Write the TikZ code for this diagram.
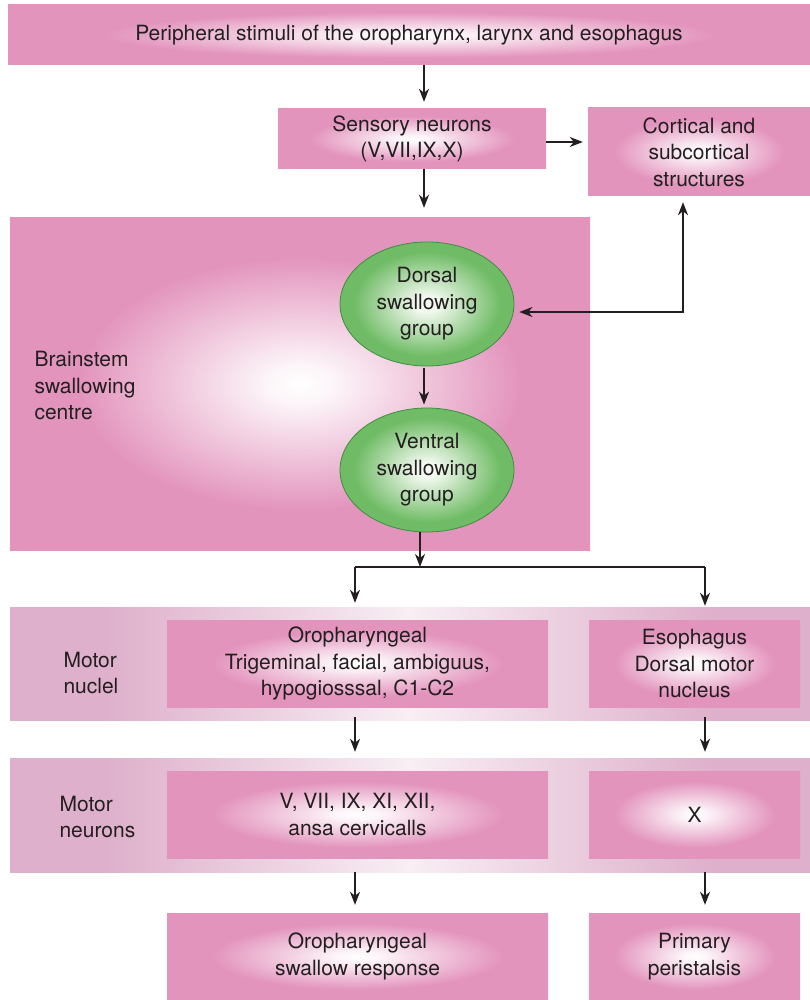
\documentclass[tikz,border=0pt]{standalone}
\usepackage{fontspec}
\setmainfont{TeX Gyre Heros}
\usetikzlibrary{arrows.meta,shapes.geometric}
\definecolor{boxpink}{RGB}{227,148,189}
\definecolor{bandpink}{RGB}{222,176,203}
\definecolor{bandwhite}{RGB}{248,238,244}
\definecolor{greenout}{RGB}{112,188,102}
\definecolor{greenin}{RGB}{243,249,240}
\definecolor{greenline}{RGB}{60,143,62}
\definecolor{ink}{RGB}{35,31,32}
\pgfdeclareradialshading{boxglow}{\pgfpoint{0bp}{0bp}}{color(0bp)=(white); color(3bp)=(white!90!boxpink); color(19bp)=(boxpink); color(50bp)=(boxpink)}
\pgfdeclareradialshading{greenglow}{\pgfpoint{0bp}{0bp}}{color(0bp)=(greenin); color(3bp)=(greenin); color(21bp)=(greenout); color(50bp)=(greenout)}
\pgfdeclarehorizontalshading{bandglow}{100bp}{color(0bp)=(bandpink); color(31bp)=(bandpink); color(50bp)=(bandwhite); color(69bp)=(bandpink); color(100bp)=(bandpink)}

\begin{document}
\begin{tikzpicture}[x=1pt, y=-1pt, every node/.style={text=ink, font=\fontsize{21}{26.5}\selectfont},
  pbox/.style={rectangle, shade, shading=boxglow, align=center, inner sep=0pt},
  band/.style={rectangle, shade, shading=bandglow, inner sep=0pt, minimum width=800pt},
  grp/.style={ellipse, shade, shading=greenglow, draw=greenline, line width=0.8pt, align=center, inner sep=0pt, minimum width=174pt, minimum height=124pt},
  arr/.style={-{Stealth[length=13pt,width=10pt,inset=4pt]}, line width=1.6pt, draw=ink}]
\useasboundingbox (0,0) rectangle (810,1000);
% --- input and sensory side ---
\node[pbox, minimum width=802pt, minimum height=60pt] (stimuli) at (409,35) {Peripheral stimuli of the oropharynx, larynx and esophagus};
\node[pbox, minimum width=268pt, minimum height=60pt] (sensory) at (412,139) {Sensory neurons\\(V,VII,IX,X)};
\node[pbox, minimum width=222pt, minimum height=88pt] (cortical) at (699,152) {Cortical and\\subcortical\\structures};
% --- brainstem centre ---
\node[pbox, minimum width=580pt, minimum height=332pt] (brainstem) at (300,384) {};
\node[anchor=west, align=left] (bslabel) at (31,386) {Brainstem\\swallowing\\centre};
\node[grp] (dorsal) at (427,304) {Dorsal\\swallowing\\group};
\node[grp] (ventral) at (427,470) {Ventral\\swallowing\\group};
% --- motor nuclei and neurons ---
\node[band, minimum height=113pt] (nuclei) at (410,663.5) {};
\node[anchor=west, align=left] (nuclabel) at (60,673) {Motor\\nuclel};
\node[pbox, minimum width=381pt, minimum height=87pt] (oronuc) at (357.5,663.5) {Oropharyngeal\\Trigeminal, facial, ambiguus,\\hypogiosssal, C1-C2};
\node[pbox, minimum width=211pt, minimum height=87pt] (esonuc) at (694.5,663.5) {Esophagus\\Dorsal motor\\nucleus};
\node[band, minimum height=114pt] (neurons) at (410,815) {};
\node[anchor=west, align=left] (neulabel) at (56,817) {Motor\\neurons};
\node[pbox, minimum width=381pt, minimum height=87pt] (oroneur) at (357.5,814.5) {V, VII, IX, XI, XII,\\ansa cervicalls};
\node[pbox, minimum width=211pt, minimum height=87pt] (xneur) at (694.5,814.5) {X};
% --- responses ---
\node[pbox, minimum width=381pt, minimum height=87pt] (ororesp) at (357.5,956.5) {Oropharyngeal\\swallow response};
\node[pbox, minimum width=211pt, minimum height=87pt] (peri) at (694.5,956.5) {Primary\\peristalsis};
% --- connectors ---
\coordinate (mainx) at (424,0);
\coordinate (leftx) at (355,0);
\coordinate (rightx) at (705,0);
\coordinate (loop) at (683,312);
\coordinate (split) at (420,567);
\draw[arr, shorten >=7pt] (stimuli.south -| mainx) -- (sensory.north -| mainx);
\draw[arr, shorten >=5pt] (sensory.east |- 0,142) -- (cortical.west |- 0,142);
\draw[arr, shorten >=10pt] (sensory.south -| mainx) -- (brainstem.north -| mainx);
\draw[arr, shorten <=6pt, shorten >=5pt, {Stealth[length=13pt,width=10pt,inset=4pt]}-{Stealth[length=13pt,width=10pt,inset=4pt]}] (cortical.south -| loop) -- (loop) -- (dorsal.east |- loop);
\draw[arr, shorten <=2pt, shorten >=3pt] (dorsal.south -| mainx) -- (ventral.north -| mainx);
\draw[arr] (ventral.south -| split) -- (split);
\draw[line width=1.6pt, draw=ink] (split -| leftx) -- (split -| rightx);
\draw[arr, shorten >=4pt] (split -| leftx) -- (nuclei.north -| leftx);
\draw[arr, shorten >=1pt] (split -| rightx) -- (nuclei.north -| rightx);
\draw[arr, shorten <=-3pt, shorten >=6pt] (nuclei.south -| leftx) -- (neurons.north -| leftx);
\draw[arr, shorten <=-3pt, shorten >=6pt] (nuclei.south -| rightx) -- (neurons.north -| rightx);
\draw[arr, shorten >=8pt] (neurons.south -| leftx) -- (ororesp.north -| leftx);
\draw[arr, shorten >=8pt] (neurons.south -| rightx) -- (peri.north -| rightx);
\end{tikzpicture}
\end{document}
